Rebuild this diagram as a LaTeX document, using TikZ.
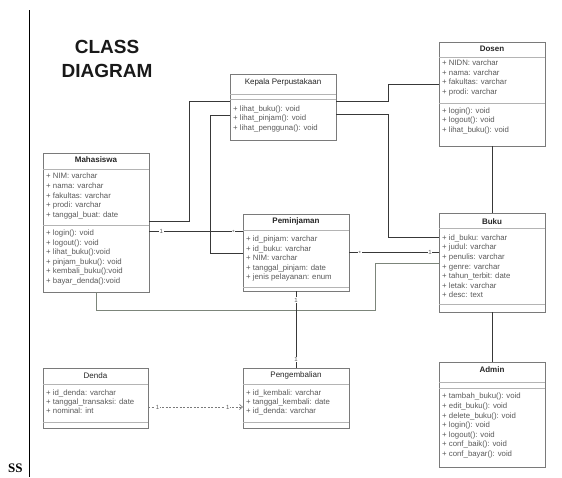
\documentclass[tikz,border=0pt]{standalone}
\usepackage{fontspec}
\setmainfont{Liberation Sans}
\newfontfamily\serifbold{Liberation Serif}
\usetikzlibrary{arrows.meta}

\definecolor{boxgray}{HTML}{7A7A7A}
\definecolor{sepgray}{HTML}{B4B4B4}
\definecolor{rowgray}{HTML}{5A5A5A}
\definecolor{linkgray}{HTML}{383838}
\definecolor{pathgray}{HTML}{7C857A}

\begin{document}
\begin{tikzpicture}[x=1pt,y=-1pt]
    \tikzset{box/.style = {draw=boxgray, line width=0.8pt, inner sep=0, outer sep=0, anchor=north west}}
    \tikzset{title/.style = {inner sep=0, font=\fontsize{8}{9}\selectfont, text=black!85}}
    \tikzset{row/.style = {anchor=west, inner sep=0, font=\fontsize{7.8}{9}\selectfont, text=rowgray, text height=5.6pt, text depth=1.6pt}}
    \tikzset{sep/.style = {draw=sepgray, line width=0.7pt}}
    \tikzset{link/.style = {draw=linkgray, line width=0.9pt}}
    \tikzset{mult/.style = {fill=white, inner sep=0.7pt, font=\fontsize{6}{7}\selectfont, text=rowgray}}

    \useasboundingbox[fill=white] (0,0) rectangle (562,477);

    % page margin and heading
    \draw[black, line width=1pt] (29,10) -- (29,477);
    \node[font=\serifbold\bfseries\fontsize{13}{14}\selectfont, anchor=base west, inner sep=0] (ss) at (8,472) {SS};
    \node[font=\bfseries\fontsize{19}{24}\selectfont, align=center, text=black!90] (heading) at (107,59) {CLASS\\DIAGRAM};

    % classes
    \node[box, minimum width=106pt, minimum height=66pt] (kep) at (230,74) {};
    \node[title] at (283,82) {Kepala Perpustakaan};
    \draw[sep] (kep.west |- 0,94) -- (kep.east |- 0,94);
    \draw[sep] (kep.west |- 0,99) -- (kep.east |- 0,99);
    \foreach \r [count=\i from 0] in {lihat\_buku(): void, lihat\_pinjam(): void, lihat\_pengguna(): void}
        \node[row] at (233,109.3+9.5*\i) {+ \r};

    \node[box, minimum width=106pt, minimum height=104pt] (dos) at (439,42) {};
    \node[title, font=\bfseries\fontsize{8}{9}\selectfont] at (492,48.5) {Dosen};
    \draw[sep] (dos.west |- 0,57) -- (dos.east |- 0,57);
    \foreach \r [count=\i from 0] in {NIDN: varchar, nama: varchar, fakultas: varchar, prodi: varchar}
        \node[row] at (442,63.5+9.5*\i) {+ \r};
    \draw[sep] (dos.west |- 0,103) -- (dos.east |- 0,103);
    \foreach \r [count=\i from 0] in {login(): void, logout(): void, lihat\_buku(): void}
        \node[row] at (442,111.2+9.5*\i) {+ \r};

    \node[box, minimum width=106pt, minimum height=139pt] (mhs) at (43,153) {};
    \node[title, font=\bfseries\fontsize{8}{9}\selectfont] at (96,159.5) {Mahasiswa};
    \draw[sep] (mhs.west |- 0,169) -- (mhs.east |- 0,169);
    \foreach \r [count=\i from 0] in {NIM: varchar, nama: varchar, fakultas: varchar, prodi: varchar, tanggal\_buat: date}
        \node[row] at (46,176.8+9.6*\i) {+ \r};
    \draw[sep] (mhs.west |- 0,225) -- (mhs.east |- 0,225);
    \foreach \r [count=\i from 0] in {login(): void, logout(): void, lihat\_buku():void, pinjam\_buku(): void, kembali\_buku():void, bayar\_denda():void}
        \node[row] at (46,233.4+9.6*\i) {+ \r};

    \node[box, minimum width=106pt, minimum height=77pt] (pem) at (243,214) {};
    \node[title, font=\bfseries\fontsize{8}{9}\selectfont] at (296,221.7) {Peminjaman};
    \draw[sep] (pem.west |- 0,230) -- (pem.east |- 0,230);
    \foreach \r [count=\i from 0] in {id\_pinjam: varchar, id\_buku: varchar, NIM: varchar, tanggal\_pinjam: date, jenis pelayanan: enum}
        \node[row] at (246,239.4+9.6*\i) {+ \r};
    \draw[sep] (pem.west |- 0,287) -- (pem.east |- 0,287);

    \node[box, minimum width=106pt, minimum height=99pt] (buku) at (439,213) {};
    \node[title, font=\bfseries\fontsize{8}{9}\selectfont] at (492,221.5) {Buku};
    \draw[sep] (buku.west |- 0,228) -- (buku.east |- 0,228);
    \foreach \r [count=\i from 0] in {id\_buku: varchar, judul: varchar, penulis: varchar, genre: varchar, tahun\_terbit: date, letak: varchar, desc: text}
        \node[row] at (442,238.4+9.55*\i) {+ \r};
    \draw[sep] (buku.west |- 0,304) -- (buku.east |- 0,304);

    \node[box, minimum width=105pt, minimum height=60pt] (den) at (43,368) {};
    \node[title] at (95.5,375.5) {Denda};
    \draw[sep] (den.west |- 0,384) -- (den.east |- 0,384);
    \foreach \r [count=\i from 0] in {id\_denda: varchar, tanggal\_transaksi: date, nominal: int}
        \node[row] at (46,393.3+9.3*\i) {+ \r};
    \draw[sep] (den.west |- 0,422) -- (den.east |- 0,422);

    \node[box, minimum width=106pt, minimum height=60pt] (peng) at (243,368) {};
    \node[title] at (296,375.5) {Pengembalian};
    \draw[sep] (peng.west |- 0,384) -- (peng.east |- 0,384);
    \foreach \r [count=\i from 0] in {id\_kembali: varchar, tanggal\_kembali: date, id\_denda: varchar}
        \node[row] at (246,393.3+9.3*\i) {+ \r};
    \draw[sep] (peng.west |- 0,422) -- (peng.east |- 0,422);

    \node[box, minimum width=106pt, minimum height=105pt] (adm) at (439,362) {};
    \node[title, font=\bfseries\fontsize{8}{9}\selectfont] at (492,369.5) {Admin};
    \draw[sep] (adm.west |- 0,382) -- (adm.east |- 0,382);
    \draw[sep] (adm.west |- 0,388) -- (adm.east |- 0,388);
    \foreach \r [count=\i from 0] in {tambah\_buku(): void, edit\_buku(): void, delete\_buku(): void, login(): void, logout(): void, conf\_baik(): void, conf\_bayar(): void}
        \node[row] at (442,396.8+9.6*\i) {+ \r};

    % relations
    \draw[link] (mhs.east |- 0,221) -- (189,221) -- (189,101) -- (kep.west |- 0,101);
    \draw[link] (kep.west |- 0,115) -- (210,115) -- (210,253) -- (pem.west |- 0,253);
    \draw[link] (mhs.east |- 0,231) -- (pem.west |- 0,231)
        node[mult, pos=0.13] {1} node[mult, pos=0.9, yshift=-1pt] {*};
    \draw[link] (kep.east |- 0,101) -- (388,101) -- (388,84) -- (dos.west |- 0,84);
    \draw[link] (kep.east |- 0,114) -- (388,114) -- (388,237) -- (buku.west |- 0,237);
    \draw[link] (pem.east |- 0,252) -- (buku.west |- 0,252)
        node[mult, pos=0.12, yshift=-1pt] {*} node[mult, pos=0.9] {1};
    \draw[draw=pathgray, line width=1pt] (mhs.south) -- (96,310) -- (375,310) -- (375,263) -- (buku.west |- 0,263);
    \draw[link] (pem.south) -- (peng.north)
        node[mult, pos=0.12] {1} node[mult, pos=0.89] {1};
    \draw[draw=boxgray, line width=0.7pt, dashed, dash pattern=on 2pt off 1.5pt, -{Straight Barb[length=3pt, width=5pt]}]
        (den.east |- 0,407) -- (peng.west |- 0,407)
        node[mult, pos=0.1] {1} node[mult, pos=0.84] {1};
    \draw[link] (dos.south) -- (buku.north);
    \draw[link] (buku.south) -- (adm.north);
\end{tikzpicture}
\end{document}
